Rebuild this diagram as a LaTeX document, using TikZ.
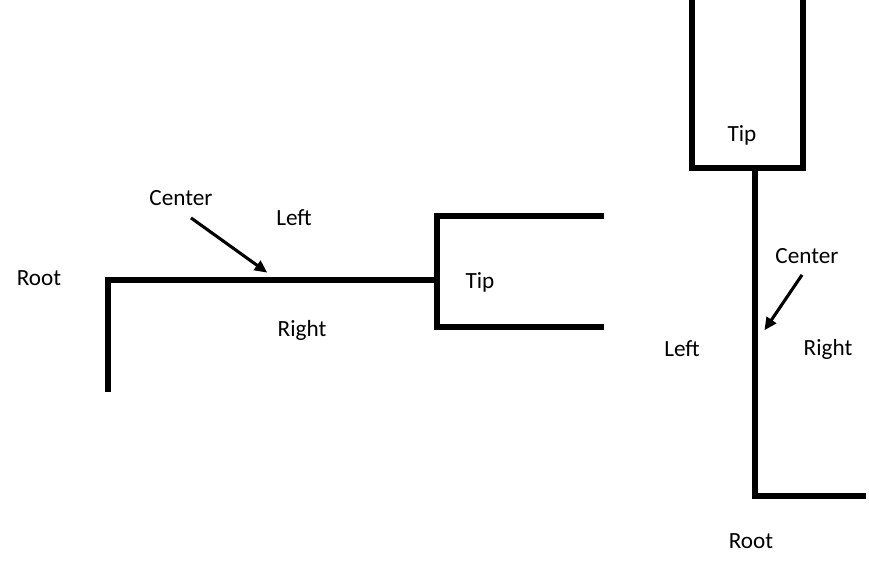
\documentclass[tikz,border=0pt]{standalone}
\usepackage{fontspec}
\setmainfont{Carlito}
\usetikzlibrary{arrows.meta}

\begin{document}
\begin{tikzpicture}[x=0.025cm, y=-0.025cm,
  branch/.style={line width=4.3pt, line cap=rect},
  pointer/.style={line width=2.2pt, -{Triangle[length=9pt,width=8pt]}, shorten >=-2pt},
  lbl/.style={font=\fontsize{16.5}{19}\selectfont, inner sep=0pt}]
\useasboundingbox (0,0) rectangle (869,561);

% horizontal tree
\coordinate (hroot) at (108,389);
\coordinate (hbend) at (108,280);
\coordinate (hfork) at (437,280);
\coordinate (hforkT) at (437,216);
\coordinate (hforkB) at (437,327);
\coordinate (hendT) at (601,216);
\coordinate (hendB) at (601,327);
\draw[branch] (hroot) -- (hbend) -- (hfork);
\draw[branch] (hforkT) -- (hforkB);
\draw[branch] (hforkT) -- (hendT);
\draw[branch] (hforkB) -- (hendB);
\coordinate (hmid) at (265,271);

\node[lbl] (hRootLbl) at (39,278) {Root};
\node[lbl] (hCenterLbl) at (181,198) {Center};
\node[lbl] (hLeftLbl) at (294,218) {Left};
\node[lbl] (hRightLbl) at (302,330) {Right};
\node[lbl] (hTipLbl) at (480,282) {Tip};
\draw[pointer] (hCenterLbl.south) ++(10,12) coordinate (hstart) (hstart) -- (hmid);

% vertical tree
\coordinate (vtopL) at (692,0);
\coordinate (vtopR) at (803,0);
\coordinate (vforkL) at (692,168);
\coordinate (vforkR) at (803,168);
\coordinate (vfork) at (755,168);
\coordinate (vbend) at (755,496);
\coordinate (vroot) at (863,496);
\draw[branch] (vtopL) -- (vforkL) -- (vforkR) -- (vtopR);
\draw[branch] (vfork) -- (vbend) -- (vroot);
\coordinate (vmid) at (766,328);

\node[lbl] (vTipLbl) at (742,135) {Tip};
\node[lbl] (vCenterLbl) at (807,256) {Center};
\node[lbl] (vLeftLbl) at (682,349) {Left};
\node[lbl] (vRightLbl) at (828,349) {Right};
\node[lbl] (vRootLbl) at (751,541) {Root};
\draw[pointer] (vCenterLbl.south) ++(-5,11) coordinate (vstart) (vstart) -- (vmid);
\end{tikzpicture}
\end{document}
